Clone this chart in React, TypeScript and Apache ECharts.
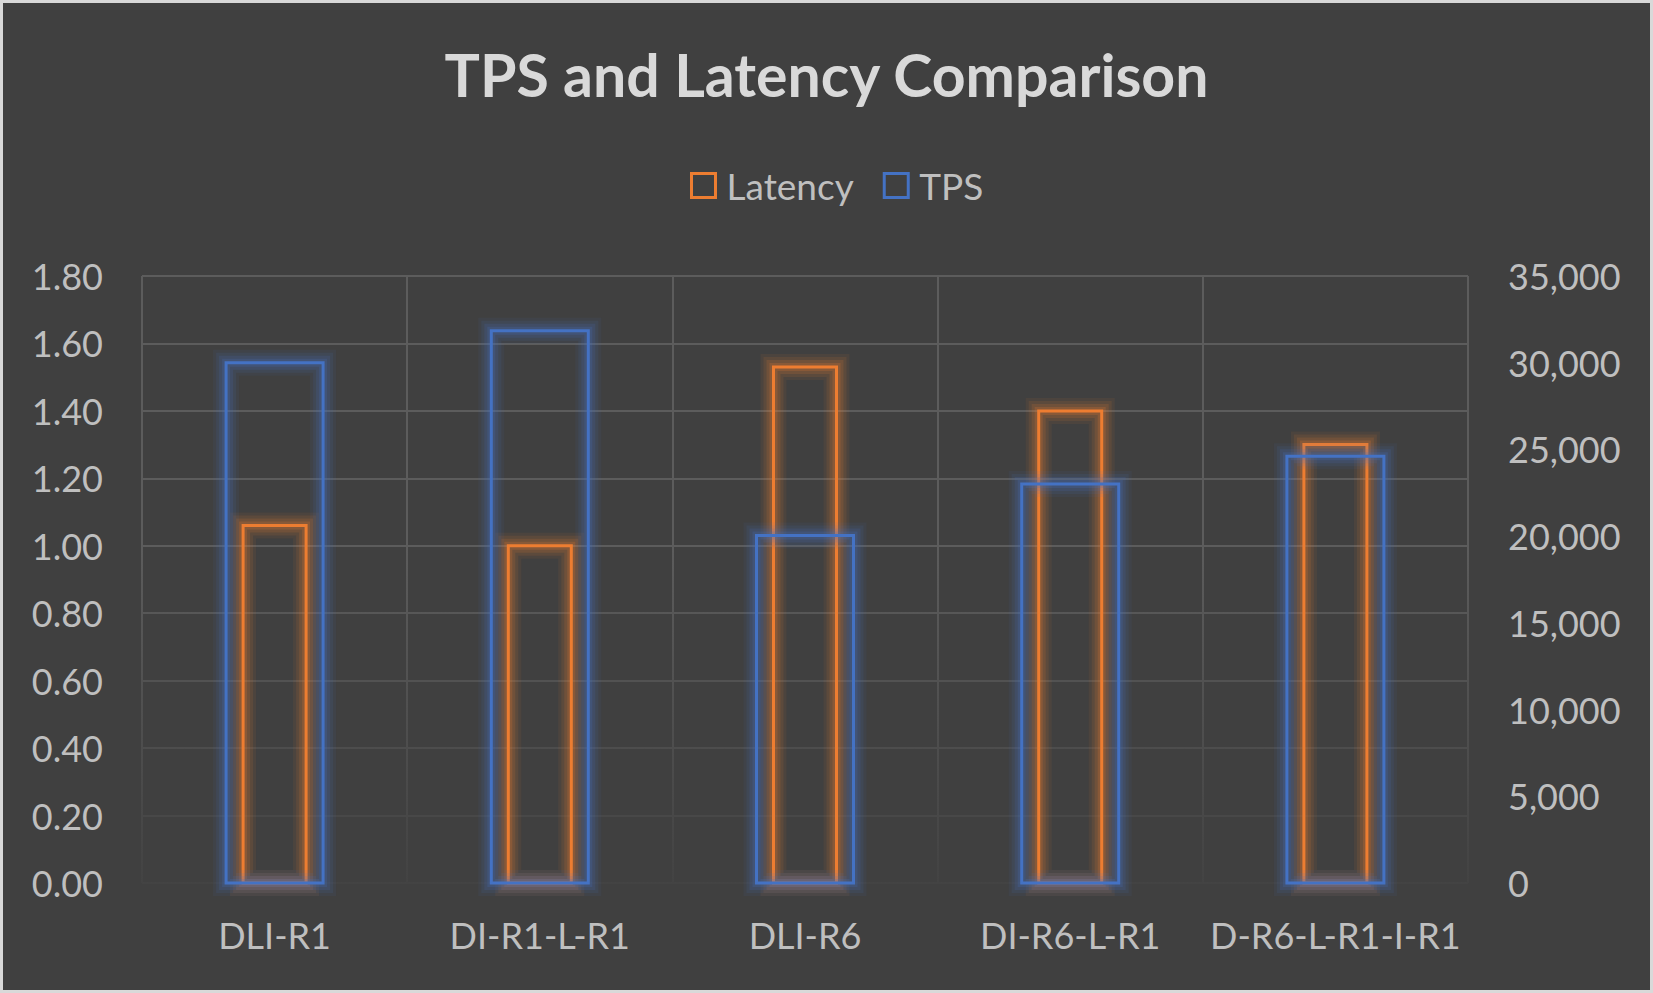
import React, { useEffect, useRef } from "react";
import * as echarts from "echarts";

const categories = ["DLI-R1", "DI-R1-L-R1", "DLI-R6", "DI-R6-L-R1", "D-R6-L-R1-I-R1"];
const latencyValues = [1.06, 1.0, 1.53, 1.4, 1.3];
const tpsValues = [30000, 31850, 20030, 23000, 24600];
const seriesNames = ["Latency", "TPS"];
const titleText = "TPS and Latency Comparison";

const ORANGE = "#ED7D31";
const BLUE = "#4472C4";
const FONT = "Lato, 'Open Sans', sans-serif";

const GRID = { left: 139, top: 273, right: 182, bottom: 107 };
const W = 1647;
const H = 987;

const GLOW = [
  { w: 26, a: 0.07 },
  { w: 20, a: 0.1 },
  { w: 14, a: 0.14 },
  { w: 8, a: 0.2 },
];

function makeRender(barWidth: number, color: string, rgb: string) {
  return (params: any, api: any) => {
    const top = api.coord([api.value(0), api.value(1)]);
    const base = api.coord([api.value(0), 0]);
    const x = top[0] - barWidth / 2;
    const y = top[1];
    const h = base[1] - top[1];
    const children: any[] = GLOW.map((g) => ({
      type: "rect",
      shape: { x, y, width: barWidth, height: h },
      style: { fill: "none", stroke: `rgba(${rgb},${g.a})`, lineWidth: g.w },
      silent: true,
    }));
    children.push({
      type: "rect",
      shape: { x, y, width: barWidth, height: h },
      style: { fill: "none", stroke: color, lineWidth: 3 },
    });
    return { type: "group", children };
  };
}

export default function App() {
  const ref = useRef<HTMLDivElement>(null);

  useEffect(() => {
    if (!ref.current) return;
    const chart = echarts.init(ref.current, undefined, { renderer: "svg" });
    const plotTop = GRID.top;
    const plotBottom = H - GRID.bottom;
    const plotLeft = GRID.left;
    const plotRight = W - GRID.right;
    const fadeTop = plotTop + (plotBottom - plotTop) * (8 / 18);
    chart.setOption({
      animation: false,
      backgroundColor: "#404040",
      title: {
        text: titleText,
        left: "center",
        top: 42,
        padding: 0,
        textStyle: { fontFamily: FONT, fontSize: 59, fontWeight: "bold", color: "#D9D9D9" },
      },
      legend: {
        data: [
          {
            name: seriesNames[0],
            icon: "rect",
            itemStyle: { color: "rgba(0,0,0,0)", borderColor: ORANGE, borderWidth: 3 },
          },
          {
            name: seriesNames[1],
            icon: "rect",
            itemStyle: { color: "rgba(0,0,0,0)", borderColor: BLUE, borderWidth: 3 },
          },
        ],
        left: 687,
        top: 164,
        padding: 0,
        itemWidth: 24,
        itemHeight: 24,
        itemGap: 29,
        textStyle: { fontFamily: FONT, fontSize: 37, color: "#BFBFBF", padding: [0, 0, 0, 6] },
      },
      graphic: [
        {
          type: "rect",
          z: 1,
          silent: true,
          shape: {
            x: plotLeft - 3,
            y: fadeTop,
            width: plotRight - plotLeft + 6,
            height: plotBottom - fadeTop + 3,
          },
          style: {
            fill: new echarts.graphic.LinearGradient(0, 0, 0, 1, [
              { offset: 0, color: "rgba(64,64,64,0)" },
              { offset: 1, color: "rgba(64,64,64,0.9)" },
            ]),
          },
        },
      ],
      grid: { ...GRID, containLabel: false },
      xAxis: [
        {
          type: "category",
          data: categories,
          axisLine: { show: false },
          axisTick: { show: false },
          axisLabel: { fontFamily: FONT, fontSize: 36, color: "#BFBFBF", margin: 34, interval: 0 },
          splitLine: { show: true, lineStyle: { color: "#5c5c5c", width: 2 } },
        },
      ],
      yAxis: [
        {
          type: "value",
          min: 0,
          max: 1.8,
          interval: 0.2,
          axisLine: { show: false },
          axisTick: { show: false },
          axisLabel: {
            fontFamily: FONT,
            fontSize: 36,
            color: "#BFBFBF",
            margin: 39,
            formatter: (v: number) => v.toFixed(2),
          },
          splitLine: { show: true, lineStyle: { width: 2, color: "#5c5c5c" } },
        },
        {
          type: "value",
          min: 0,
          max: 35000,
          interval: 5000,
          position: "right",
          axisLine: { show: false },
          axisTick: { show: false },
          splitLine: { show: false },
          axisLabel: {
            fontFamily: FONT,
            fontSize: 36,
            color: "#BFBFBF",
            margin: 40,
            formatter: (v: number) => v.toLocaleString("en-US"),
          },
        },
      ],
      series: [
        {
          name: seriesNames[0],
          type: "custom",
          xAxisIndex: 0,
          yAxisIndex: 0,
          z: 2,
          clip: false,
          encode: { x: 0, y: 1 },
          data: latencyValues.map((v, i) => [i, v]),
          itemStyle: { color: "rgba(0,0,0,0)", borderColor: ORANGE, borderWidth: 3 },
          renderItem: makeRender(63, ORANGE, "237,125,49"),
        },
        {
          name: seriesNames[1],
          type: "custom",
          xAxisIndex: 0,
          yAxisIndex: 1,
          z: 3,
          clip: false,
          encode: { x: 0, y: 1 },
          data: tpsValues.map((v, i) => [i, v]),
          itemStyle: { color: "rgba(0,0,0,0)", borderColor: BLUE, borderWidth: 3 },
          renderItem: makeRender(97, BLUE, "68,114,196"),
        },
      ],
    });
    return () => chart.dispose();
  }, []);

  return (
    <div
      style={{
        position: "fixed",
        left: 0,
        top: 0,
        width: 1653,
        height: 993,
        boxSizing: "border-box",
        border: "3px solid #D9D9D9",
        background: "#404040",
      }}
    >
      <div ref={ref} style={{ width: W, height: H }} />
    </div>
  );
}
